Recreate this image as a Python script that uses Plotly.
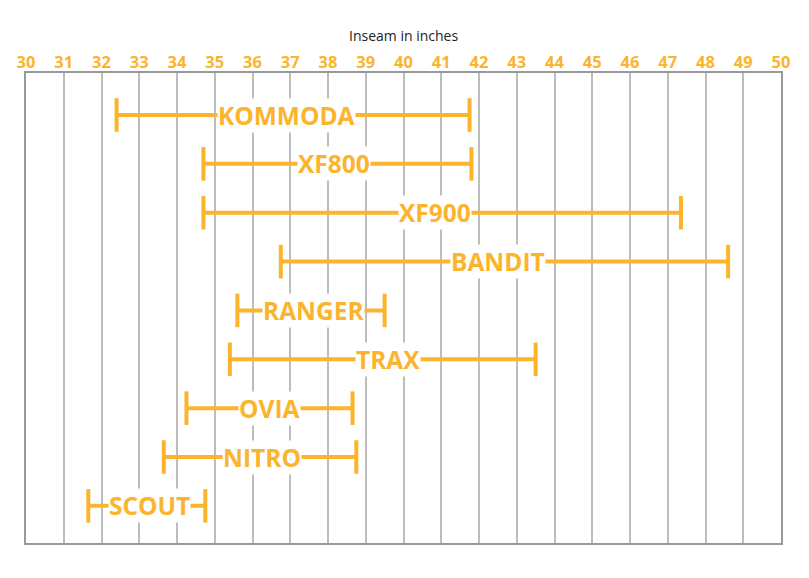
import plotly.graph_objects as go

models = ["KOMMODA", "XF800", "XF900", "BANDIT", "RANGER", "TRAX", "OVIA", "NITRO", "SCOUT"]
min_inseam = [32.4, 34.7, 34.7, 36.75, 35.6, 35.4, 34.25, 33.65, 31.65]
max_inseam = [41.75, 41.8, 47.35, 48.6, 39.5, 43.5, 38.65, 38.75, 34.75]
label_at = [36.9, 38.16, 40.83, 42.49, 37.62, 39.59, 36.44, 36.24, 33.27]
tick_values = list(range(30, 51))

ORANGE = "#FBB42C"
fig = go.Figure()

for i, (name, lo, hi, lx) in enumerate(zip(models, min_inseam, max_inseam, label_at)):
    fig.add_trace(go.Scatter(
        x=[lo, hi], y=[i, i], mode="lines+markers",
        line=dict(color=ORANGE, width=4),
        marker=dict(symbol="line-ns", size=24, line=dict(color=ORANGE, width=4)),
        hoverinfo="skip", showlegend=False,
    ))
    fig.add_annotation(
        x=lx, y=i, xref="x", yref="y", text="<b>" + name + "</b>",
        showarrow=False, bgcolor="white", borderpad=0,
        font=dict(family="Open Sans", size=24.5, color=ORANGE),
    )

fig.add_annotation(
    x=0.5, y=1, xref="paper", yref="paper", yanchor="bottom", yshift=26,
    text="Inseam in inches", showarrow=False,
    font=dict(family="Open Sans", size=14, color="#222"),
)

fig.update_xaxes(
    range=[30, 50], side="top", tickvals=tick_values, ticktext=[str(v) for v in tick_values],
    tickfont=dict(family="Open Sans", size=16.5, color=ORANGE, weight="bold"),
    ticklabelstandoff=-4,
    showgrid=True, gridcolor="#BDBDBD", gridwidth=2,
    showline=True, linecolor="#999999", linewidth=2, mirror=True,
    zeroline=False, fixedrange=True, automargin=False,
)
fig.update_yaxes(
    range=[8.76, -0.86], showticklabels=False, showgrid=False, zeroline=False,
    showline=True, linecolor="#999999", linewidth=2, mirror=True, automargin=False,
)
fig.update_layout(
    width=801, height=570, margin=dict(l=18, r=28, t=65, b=35),
    plot_bgcolor="white", paper_bgcolor="white",
)

fig.write_html("out.html")
